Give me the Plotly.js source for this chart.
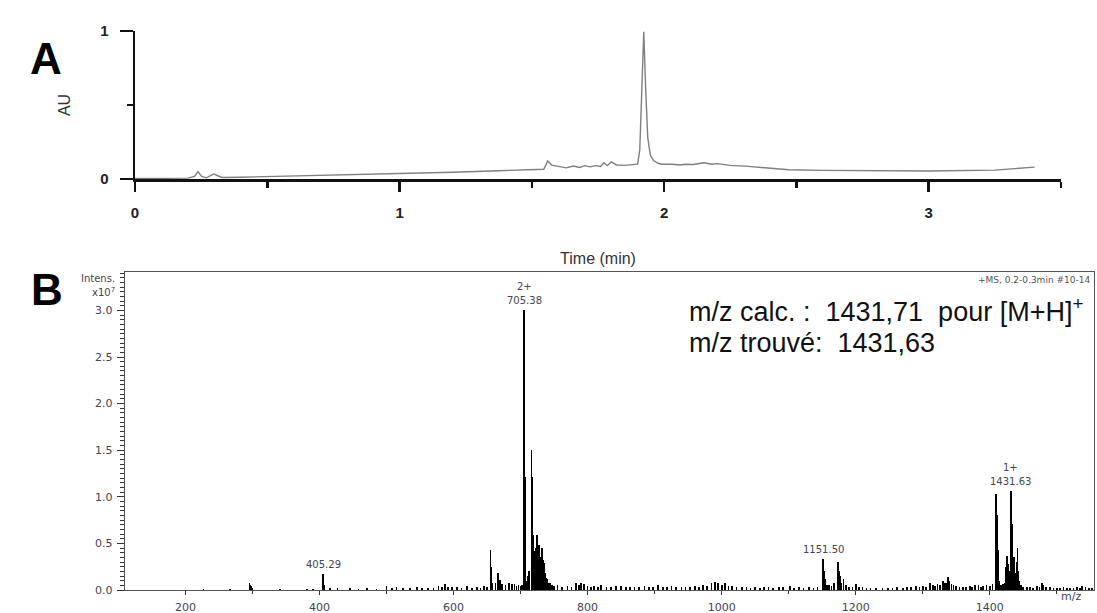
<!DOCTYPE html>
<html><head><meta charset="utf-8">
<script src="https://cdn.plot.ly/plotly-3.0.1.min.js"></script>
<style>html,body{margin:0;padding:0;background:#fff;}#chart{width:1097px;height:613px;}</style>
</head><body><div id="chart"></div>
<script>
// ---- Panel A: HPLC chromatogram ----
const timeMin = [0, 0.1, 0.2, 0.225, 0.238, 0.252, 0.27, 0.285, 0.298, 0.312,
  0.33, 0.4, 0.6, 0.8, 1.0, 1.2, 1.375, 1.5, 1.545, 1.56,
  1.575, 1.6, 1.63, 1.657, 1.68, 1.70, 1.72, 1.74, 1.76, 1.772,
  1.785, 1.80, 1.82, 1.85, 1.88, 1.90, 1.908, 1.915, 1.923, 1.93,
  1.938, 1.948, 1.96, 1.975, 1.99, 2.03, 2.06, 2.08, 2.11, 2.15,
  2.18, 2.20, 2.25, 2.32, 2.40, 2.47, 2.60, 2.82, 3.00, 3.25,
  3.35, 3.40];
const absorbance = [0.003, 0.004, 0.006, 0.018, 0.05, 0.018, 0.008, 0.022, 0.034, 0.022,
  0.01, 0.012, 0.02, 0.03, 0.038, 0.046, 0.056, 0.062, 0.066, 0.122,
  0.094, 0.085, 0.075, 0.088, 0.078, 0.09, 0.082, 0.09, 0.085, 0.11,
  0.09, 0.115, 0.095, 0.092, 0.095, 0.1, 0.2, 0.55, 0.995, 0.62,
  0.28, 0.16, 0.125, 0.108, 0.1, 0.1, 0.095, 0.1, 0.098, 0.11,
  0.1, 0.104, 0.092, 0.085, 0.075, 0.062, 0.058, 0.054, 0.054, 0.06,
  0.07, 0.08];
const timeTicks = [0, 1, 2, 3];
const timeMinorTicks = [0.5, 1.5, 2.5, 3.5];
const auTicks = [0, 1];

// ---- Panel B: mass spectrum (intensity x10^7) ----
const mzValues = [
  165, 227, 267, 295.5, 296.5, 297.8, 299, 341, 381, 390, 405.29, 406.3, 407.5, 416, 427, 446,
  458, 471, 485, 500, 508, 515, 525, 535, 545, 553, 562, 570, 577.5, 583, 587.5, 592, 598, 605, 612, 620, 627, 635, 640, 645, 650,
  655.2, 656.4, 658, 662.5, 666, 667.2, 669.7, 672, 677.5, 682.5, 687.6, 691, 694, 697, 700, 702,
  705.38, 705.88, 706.38, 706.9, 707.5, 709, 711, 713, 716.3, 716.8, 717.3, 718.4, 719.5, 720.5, 721.5, 722.6, 723.5, 724.4, 725.3, 726.2,
  727, 728, 729, 730, 731, 731.8, 733.5, 734.5, 735.8, 737, 738.3, 740, 742, 744, 747, 750,
  755, 762, 770, 776, 782.5, 787, 790, 795, 800, 805, 810, 815, 820, 828, 835, 842, 850, 857, 863, 870,
  877, 885, 892, 898, 905, 912, 918, 925, 932, 940, 946, 953, 960, 966, 972.5, 978, 985, 990, 995, 1000,
  1005, 1010, 1015, 1022, 1030, 1037, 1043, 1050, 1057, 1063, 1070, 1077, 1085, 1092, 1102, 1108, 1115, 1122, 1130, 1137, 1143,
  1151.5, 1152.5, 1155, 1157, 1160, 1164, 1167.8, 1173.7, 1174.7, 1176, 1178, 1181.6, 1185, 1190, 1195, 1200, 1205, 1210, 1216, 1222,
  1230, 1240, 1248, 1255, 1262, 1270, 1276, 1283, 1290, 1295, 1300, 1305, 1310.7, 1315, 1318, 1322, 1326, 1330.5, 1333, 1335,
  1337.9, 1340, 1343, 1346, 1350, 1355, 1360, 1365, 1370, 1374, 1378, 1383, 1387, 1390, 1395, 1400, 1404,
  1409.6, 1410.6, 1411.9, 1413, 1414.5, 1417, 1420, 1422, 1424.5, 1425.8, 1427, 1428.5, 1430, 1431.63, 1432.6, 1433.6, 1434.6, 1435.7, 1437, 1438.5,
  1440, 1441.2, 1442.5, 1444, 1447, 1450, 1455, 1460, 1465, 1470, 1474, 1477.9, 1479.5, 1484, 1490, 1495, 1500, 1505, 1510, 1515,
  1520, 1525, 1530, 1535, 1538, 1543, 1548, 1552];
const intensityE7 = [
  0.005, 0.01, 0.01, 0.07, 0.05, 0.04, 0.02, 0.01, 0.015, 0.012, 0.168, 0.05, 0.03, 0.02, 0.02, 0.02,
  0.015, 0.02, 0.015, 0.04, 0.02, 0.03, 0.02, 0.025, 0.03, 0.02, 0.025, 0.02, 0.04, 0.03, 0.064, 0.035, 0.03, 0.03, 0.025, 0.04, 0.025, 0.03, 0.02, 0.04, 0.03,
  0.43, 0.25, 0.08, 0.07, 0.18, 0.12, 0.11, 0.06, 0.05, 0.07, 0.06, 0.06, 0.04, 0.05, 0.04, 0.05,
  3.0, 2.65, 1.21, 0.55, 0.2, 0.1, 0.15, 0.2, 1.5, 1.21, 0.6, 0.59, 0.35, 0.42, 0.3, 0.45, 0.35, 0.59, 0.4, 0.35,
  0.48, 0.3, 0.35, 0.25, 0.3, 0.45, 0.32, 0.22, 0.29, 0.18, 0.13, 0.12, 0.08, 0.07, 0.05, 0.04,
  0.05, 0.03, 0.04, 0.03, 0.07, 0.05, 0.08, 0.06, 0.04, 0.03, 0.04, 0.03, 0.05, 0.03, 0.03, 0.04, 0.04, 0.03, 0.03, 0.03,
  0.03, 0.04, 0.03, 0.035, 0.05, 0.03, 0.03, 0.04, 0.03, 0.03, 0.03, 0.03, 0.04, 0.03, 0.05, 0.04, 0.07, 0.09, 0.07, 0.05,
  0.08, 0.04, 0.04, 0.03, 0.03, 0.03, 0.025, 0.03, 0.025, 0.03, 0.03, 0.025, 0.03, 0.03, 0.04, 0.025, 0.03, 0.025, 0.03, 0.025, 0.03,
  0.33, 0.2, 0.12, 0.05, 0.05, 0.04, 0.08, 0.30, 0.2, 0.15, 0.07, 0.12, 0.05, 0.03, 0.03, 0.06, 0.03, 0.03, 0.02, 0.02,
  0.02, 0.02, 0.02, 0.02, 0.03, 0.02, 0.03, 0.03, 0.04, 0.03, 0.04, 0.03, 0.08, 0.05, 0.04, 0.06, 0.05, 0.1, 0.07, 0.08,
  0.14, 0.1, 0.06, 0.05, 0.04, 0.03, 0.03, 0.03, 0.04, 0.03, 0.05, 0.05, 0.03, 0.04, 0.05, 0.04, 0.06,
  1.035, 0.8, 0.43, 0.25, 0.1, 0.05, 0.06, 0.08, 0.25, 0.364, 0.28, 0.2, 0.15, 1.06, 0.707, 0.3, 0.25, 0.357, 0.22, 0.18,
  0.3, 0.446, 0.2, 0.1, 0.05, 0.03, 0.03, 0.03, 0.025, 0.04, 0.03, 0.07, 0.05, 0.03, 0.03, 0.025, 0.02, 0.025, 0.03, 0.02,
  0.02, 0.025, 0.03, 0.025, 0.04, 0.03, 0.02, 0.025];
const labelMz = [405.29, 705.38, 1151.50, 1431.63];
const labelText = ['405.29', '705.38', '1151.50', '1431.63'];
const labelCharge = ['', '2+', '', '1+'];
const mzTicks = [200, 400, 600, 800, 1000, 1200, 1400];
const intensTicks = [0, 0.5, 1.0, 1.5, 2.0, 2.5, 3.0];
const intensTickText = ['0.0', '0.5', '1.0', '1.5', '2.0', '2.5', '3.0'];
const resultLines = ['m/z calc. :\u00a0 1431,71\u00a0 pour [M+H]<sup>+</sup>', 'm/z trouvé:\u00a0 1431,63'];

const W = 1097, H = 613;
const fx = v => v / W;
const fy = v => 1 - v / H;
const ARIAL = 'Liberation Sans, Arial, sans-serif';
const TAHOMA = 'DejaVu Sans, Verdana, sans-serif';
const msGray = '#444450';

const traces = [
  {type: 'scatter', mode: 'lines', x: timeMin, y: absorbance, xaxis: 'x', yaxis: 'y',
   line: {color: '#7f7f7f', width: 1.4}, hoverinfo: 'skip'},
  {type: 'bar', x: mzValues, y: intensityE7, xaxis: 'x2', yaxis: 'y2', width: 2.6,
   marker: {color: '#000', line: {width: 0}}, hoverinfo: 'skip'}
];

const annotations = [
  {text: '<b>A</b>', x: fx(28), y: fy(32), xref: 'paper', yref: 'paper', showarrow: false,
   font: {family: ARIAL, size: 44, color: '#000'}},
  {text: '<b>B</b>', x: fx(29), y: fy(289), xref: 'paper', yref: 'paper', showarrow: false,
   font: {family: ARIAL, size: 44, color: '#000'}},
  {text: 'Intens.', x: fx(117), y: fy(278), xref: 'paper', yref: 'paper', xanchor: 'right', showarrow: false,
   font: {family: TAHOMA, size: 10, color: msGray}},
  {text: 'x10<sup>7</sup>', x: fx(117), y: fy(292), xref: 'paper', yref: 'paper', xanchor: 'right', showarrow: false,
   font: {family: TAHOMA, size: 10, color: msGray}},
  {text: '+MS, 0.2-0.3min #10-14', x: fx(1092), y: fy(280), xref: 'paper', yref: 'paper', xanchor: 'right', showarrow: false,
   font: {family: TAHOMA, size: 9, color: '#555'}},
  {text: 'm/z', x: fx(1083), y: fy(605), xref: 'paper', yref: 'paper', showarrow: false,
   font: {family: TAHOMA, size: 11, color: msGray}},
  {text: resultLines[0], x: fx(687), y: fy(310), xref: 'paper', yref: 'paper', xanchor: 'left', showarrow: false,
   font: {family: ARIAL, size: 27, color: '#111'}},
  {text: resultLines[1], x: fx(687), y: fy(343), xref: 'paper', yref: 'paper', xanchor: 'left', showarrow: false,
   font: {family: ARIAL, size: 27, color: '#111'}}
];
labelMz.forEach((m, i) => {
  const h = intensityE7[mzValues.indexOf(m)];
  annotations.push({text: labelText[i], x: m, y: h, xref: 'x2', yref: 'y2', xanchor: 'center', yanchor: 'bottom',
    yshift: 2, showarrow: false, font: {family: TAHOMA, size: 10, color: msGray}});
  if (labelCharge[i]) {
    annotations.push({text: labelCharge[i], x: m, y: h, xref: 'x2', yref: 'y2', xanchor: 'center', yanchor: 'bottom',
      yshift: 16, showarrow: false, font: {family: TAHOMA, size: 10, color: msGray}});
  }
});

const layout = {
  width: W, height: H, margin: {l: 0, r: 0, t: 0, b: 0},
  paper_bgcolor: '#fff', plot_bgcolor: 'rgba(0,0,0,0)', showlegend: false, bargap: 0,
  xaxis: {domain: [fx(135), fx(1061)], range: [0, 3.5], anchor: 'y',
    tickmode: 'array', tickvals: timeTicks, ticks: 'outside', ticklen: 10, tickwidth: 2.5, tickcolor: '#111',
    showline: true, linewidth: 2.5, linecolor: '#111', showgrid: false, zeroline: false,
    minor: {tickmode: 'array', tickvals: timeMinorTicks, ticks: 'outside', ticklen: 6, tickwidth: 2.5, tickcolor: '#111', showgrid: false},
    tickfont: {family: ARIAL, size: 15, color: '#222', weight: 'bold'}, ticklabelstandoff: 8,
    title: {text: 'Time (min)', font: {family: ARIAL, size: 16, color: '#333'}, standoff: 34}},
  yaxis: {domain: [fy(179), fy(31)], range: [0, 1], anchor: 'x',
    tickmode: 'array', tickvals: auTicks, ticks: 'outside', ticklen: 13, tickwidth: 2.5, tickcolor: '#111',
    showline: true, linewidth: 2.5, linecolor: '#111', showgrid: false, zeroline: false,
    minor: {tickmode: 'array', tickvals: [0.5], ticks: 'outside', ticklen: 6, tickwidth: 2.5, tickcolor: '#111', showgrid: false},
    tickfont: {family: ARIAL, size: 15, color: '#222', weight: 'bold'}, ticklabelstandoff: 8,
    title: {text: 'AU', font: {family: ARIAL, size: 16, color: '#333'}, standoff: 26}},
  xaxis2: {domain: [fx(125), fx(1094)], range: [109.8, 1555.5], anchor: 'y2',
    tickmode: 'array', tickvals: mzTicks, ticks: 'outside', ticklen: 4, tickwidth: 1, tickcolor: '#333',
    showline: true, mirror: true, linewidth: 1.4, linecolor: '#555', showgrid: false, zeroline: false,
    minor: {dtick: 100, tick0: 0, ticks: 'outside', ticklen: 2.5, tickwidth: 1, tickcolor: '#333', showgrid: false},
    tickfont: {family: TAHOMA, size: 11, color: msGray}, ticklabelstandoff: 2},
  yaxis2: {domain: [fy(590), fy(272)], range: [0, 3.412], anchor: 'x2',
    tickmode: 'array', tickvals: intensTicks, ticktext: intensTickText, ticks: 'outside', ticklen: 7, tickwidth: 1, tickcolor: '#333',
    showline: true, mirror: true, linewidth: 1.4, linecolor: '#555', showgrid: false, zeroline: false,
    minor: {dtick: 0.05, tick0: 0, ticks: 'outside', ticklen: 3.5, tickwidth: 1, tickcolor: '#333', showgrid: false},
    tickfont: {family: TAHOMA, size: 11, color: msGray}, ticklabelstandoff: 2},
  annotations: annotations
};

Plotly.newPlot('chart', traces, layout, {staticPlot: true, displayModeBar: false});
</script></body></html>
